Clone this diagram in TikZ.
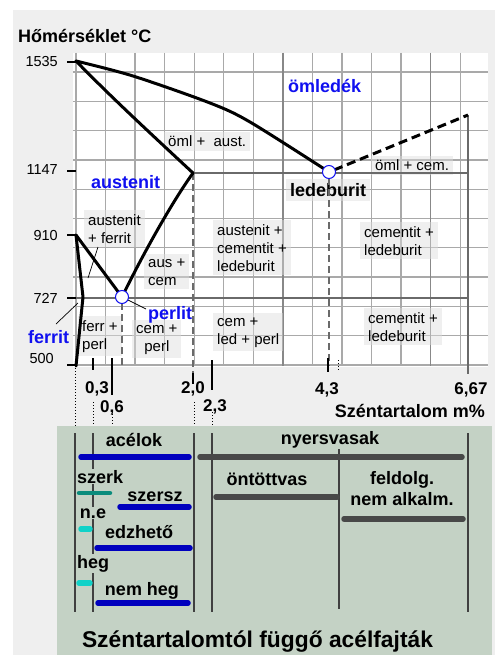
\documentclass[tikz,border=0pt]{standalone}
\usepackage{fontspec}
\setmainfont{Liberation Sans}
\definecolor{feBack}{HTML}{EFEFEF}
\definecolor{fePanel}{HTML}{C4D2C5}
\definecolor{feGrid}{HTML}{A9A9A9}
\definecolor{feGridDark}{HTML}{6A6A6A}
\definecolor{fePatch}{HTML}{DCDCDC}
\definecolor{feBlue}{HTML}{1010F0}
\definecolor{feSteel}{HTML}{0000BE}
\definecolor{feIron}{HTML}{484848}
\definecolor{feTeal}{HTML}{0A8C7C}
\definecolor{feCyan}{HTML}{10D2C8}
\tikzset{
  gridline/.style={feGrid, line width=1.3pt},
  gridbold/.style={feGridDark!80, line width=1.4pt},
  phaseline/.style={feGridDark, line width=1.8pt},
  dashline/.style={feGridDark, line width=1.9pt, dash pattern=on 7pt off 4pt},
  feline/.style={black, line width=3pt, line cap=round, line join=round},
  pointer/.style={black, line width=0.7pt},
  axtick/.style={black, line width=1.5pt},
  dotline/.style={black, line width=0.9pt, dash pattern=on 1pt off 2pt},
  panelline/.style={black!75, line width=1.2pt},
  region/.style={font=\fontsize{15}{18}\selectfont, align=left, anchor=base west,
    inner sep=4pt, fill=fePatch, fill opacity=0.45, text opacity=1},
  phase/.style={font=\fontsize{18}{21}\selectfont\bfseries, text=feBlue, anchor=base west, inner sep=0pt},
  ylab/.style={font=\fontsize{14.5}{17}\selectfont, anchor=base east, inner sep=0pt},
  xlab/.style={font=\fontsize{17}{20}\selectfont\bfseries, anchor=base, inner sep=0pt},
  kind/.style={font=\fontsize{18}{21}\selectfont\bfseries, align=center, anchor=base,
    inner sep=1pt, fill=fePanel},
  bar/.style={line width=5.5pt, line cap=round},
  point/.style={circle, draw=feBlue, fill=white, line width=1pt, minimum size=13pt, inner sep=0pt}
}
\begin{document}
\begin{tikzpicture}[x=1pt, y=-1pt]
  \useasboundingbox (0,0) rectangle (495,655);
  \fill[feBack] (13,10) rectangle (495,655);
  \fill[white] (73,53) rectangle (488,367);

  \foreach \i in {0,...,13}
    \draw[gridline] ({76+29.55*\i},53) -- ({76+29.55*\i},366);
  \foreach \j in {0,...,10}
    \draw[gridline] (73,{72+29.3*\j}) -- (488,{72+29.3*\j});
  \draw[gridbold] (282.9,53) -- (282.9,366);
  \draw[gridbold] (430.6,53) -- (430.6,366);

  \node[region] (omlaust) at (164,147) {öml + \ aust.};
  \node[region] (omlcem) at (371,171) {öml + cem.};
  \node[region] (ausfer) at (84,243) {austenit\\+ ferrit};
  \node[region] (auscem) at (144,285) {aus +\\cem};
  \node[region] (ferrperl) at (78,349) {ferr +\\perl};
  \node[region, align=center] (cemperl) at (132,351) {cem +\\perl};
  \node[region] (ausceled) at (213,271) {austenit +\\cementit +\\ledeburit};
  \node[region] (cemledup) at (360,255) {cementit +\\ledeburit};
  \node[region] (cemledperl) at (213,344) {cem +\\led + perl};
  \node[region] (cemleddown) at (364,341) {cementit +\\ledeburit};
  \node[region, font=\fontsize{18}{21}\selectfont\bfseries] (ledeb) at (286,196.5) {ledeburit};

  \draw[phaseline] (193,173) -- (468,173);
  \draw[phaseline] (76,298) -- (468,298);
  \draw[phaseline] (468,115) -- (468,374);
  \draw[dashline] (193,173) -- (193,373);
  \draw[dashline] (329,178) -- (329,366);
  \draw[dashline] (122,303) -- (122,366);

  \draw[feline] plot[smooth] coordinates {(76,61) (133,76) (210,103) (250,122) (329,172)};
  \draw[feline] (76,61) .. controls (110,96) and (150,133) .. (193,173);
  \draw[feline] (193,173) .. controls (170,205) and (140,260) .. (122,297);
  \draw[feline] (76,235) -- (122,297);
  \draw[feline] (76,235) -- (83,297) -- (76,366);
  \draw[feline, line cap=butt, dash pattern=on 9pt off 5pt] (334,170) -- (468,115);

  \node[point] (eutect) at (329,172) {};
  \node[point] (eutoid) at (122,297) {};

  \node[phase] (omledek) at (288,93) {ömledék};
  \node[phase] (austenit) at (91,188) {austenit};
  \node[phase] (perlit) at (148,319) {perlit};
  \node[phase] (ferrit) at (28,343) {ferrit};
  \draw[pointer] (eutoid) -- (146,309);
  \draw[pointer] (78,303) -- (56,324);
  \draw[pointer] (98,247) -- (88,278);

  \node[font=\fontsize{18}{21}\selectfont\bfseries, anchor=base west, inner sep=0pt] (homers) at (18,43) {Hőmérséklet °C};
  \foreach \t/\y/\b/\r in {1535/62/67/58, 1147/171/175/58, 910/235/240/58, 727/298/303/58, 500/365/363/54} {
    \draw[axtick] (67,\y) -- (76,\y);
    \node[ylab] at (\r,\b) {\t};
  }

  \draw[axtick] (93,358) -- (93,370);
  \draw[axtick] (112,358) -- (112,395);
  \draw[axtick] (193,373) -- (193,384);
  \draw[axtick] (212,360) -- (212,390);
  \draw[axtick] (328,358) -- (328,372);
  \draw[dotline] (338,360) -- (338,372);
  \node[xlab] (x03) at (97,393) {0,3};
  \node[xlab] (x06) at (112,412) {0,6};
  \node[xlab] (x20) at (193,393) {2,0};
  \node[xlab] (x23) at (215,411) {2,3};
  \node[xlab] (x43) at (327,394) {4,3};
  \node[xlab] (x667) at (471,394) {6,67};
  \node[xlab, font=\fontsize{18}{21}\selectfont\bfseries, anchor=base east] (szent) at (485,417) {Széntartalom m\%};
  \draw[dotline] (75,368) -- (75,426);
  \draw[dotline] (93,402) -- (93,426);
  \draw[dotline] (112,414) -- (112,426);
  \draw[dotline] (194,402) -- (194,426);
  \draw[dotline] (212,412) -- (212,426);

  \fill[fePanel] (57,426) rectangle (492,655);
  \foreach \x in {75,93,194,212,468}
    \draw[panelline] (\x,433) -- (\x,612);
  \draw[panelline] (339,433) -- (339,609);

  \draw[bar, feSteel] (81,457) -- (189,457);
  \draw[bar, feIron] (200,457) -- (462,457);
  \draw[bar, feTeal, line width=4.5pt] (79,493) -- (110,493);
  \draw[bar, feSteel] (120,507) -- (189,507);
  \draw[bar, feIron] (216,497) -- (337,497);
  \draw[bar, feIron] (344,519) -- (463,519);
  \draw[bar, feCyan] (81,529) -- (90,529);
  \draw[bar, feSteel] (97,548) -- (190,548);
  \draw[bar, feCyan] (79,583) -- (90,583);
  \draw[bar, feSteel] (98,603) -- (188,603);

  \node[kind] (acelok) at (134,446) {acélok};
  \node[kind] (nyers) at (330,444) {nyersvasak};
  \node[kind, anchor=base west] (szerk) at (76,483) {szerk};
  \node[kind] (szersz) at (155,501) {szersz};
  \node[kind] (ontott) at (267,485) {öntöttvas};
  \node[kind] (feldolg) at (402,505) {feldolg.\\nem alkalm.};
  \node[kind] (ne) at (93,518) {n.e};
  \node[kind] (edzheto) at (139,538) {edzhető};
  \node[kind, anchor=base west] (heg) at (76,568) {heg};
  \node[kind] (nemheg) at (142,595) {nem heg};
  \node[font=\fontsize{22.8}{26}\selectfont\bfseries, anchor=base, inner sep=0pt] (title) at (257.5,647) {Széntartalomtól függő acélfajták};
\end{tikzpicture}
\end{document}
